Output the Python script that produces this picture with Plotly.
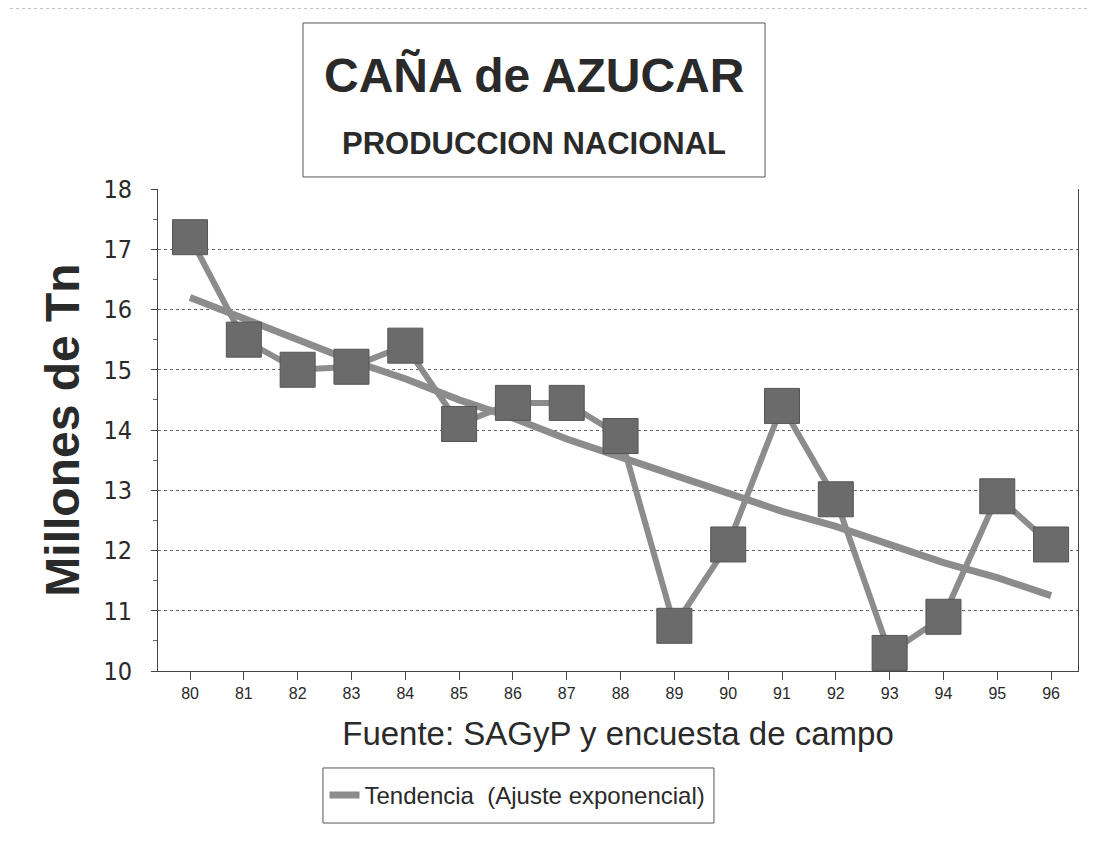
import plotly.graph_objects as go

# Datos
anios = [80, 81, 82, 83, 84, 85, 86, 87, 88, 89, 90, 91, 92, 93, 94, 95, 96]
produccion = [17.2, 15.5, 15.0, 15.05, 15.4, 14.1, 14.45, 14.45, 13.9, 10.75,
              12.1, 14.4, 12.85, 10.3, 10.9, 12.9, 12.1]
tendencia = [16.2, 15.85, 15.5, 15.15, 14.85, 14.5, 14.2, 13.85, 13.55, 13.25,
             12.95, 12.65, 12.4, 12.1, 11.8, 11.55, 11.25]
ticks_y = [10, 11, 12, 13, 14, 15, 16, 17, 18]

FUENTE = "Liberation Sans, Arial, sans-serif"
ANGOSTA = "Liberation Sans Narrow, DejaVu Sans Condensed, Liberation Sans, sans-serif"
GRIS_LINEA = "#8c8c8c"
GRIS_MARCA = "#6b6b6b"
TEXTO = "#2a2a2a"

fig = go.Figure()

# Linea de tendencia (ajuste exponencial)
fig.add_trace(go.Scatter(
    x=anios, y=tendencia,
    mode="lines",
    name="Tendencia  (Ajuste exponencial)",
    line=dict(color=GRIS_LINEA, width=7),
))

# Produccion anual
fig.add_trace(go.Scatter(
    x=anios, y=produccion,
    mode="lines+markers",
    name="Produccion",
    showlegend=False,
    line=dict(color=GRIS_LINEA, width=6),
    marker=dict(symbol="square", size=35, color=GRIS_MARCA,
                line=dict(width=1, color="#555555")),
))

# Titulo en recuadro
fig.add_shape(type="rect", xref="paper", yref="paper",
              x0=0.1576, x1=0.6598, y0=1.0249, y1=1.3444,
              line=dict(color="#555555", width=1), fillcolor="white")
fig.add_annotation(
    x=0.4087, y=1.2365, xref="paper", yref="paper",
    xanchor="center", yanchor="middle",
    text="<b>CAÑA de AZUCAR</b>", showarrow=False,
    font=dict(family=FUENTE, size=48, color=TEXTO),
)
fig.add_annotation(
    x=0.4087, y=1.0954, xref="paper", yref="paper",
    xanchor="center", yanchor="middle",
    text="<b>PRODUCCION NACIONAL</b>", showarrow=False,
    font=dict(family=FUENTE, size=31, color=TEXTO),
)

# Recuadro de la leyenda
fig.add_shape(type="rect", xref="paper", yref="paper",
              x0=0.1793, x1=0.6043, y0=-0.3154, y1=-0.2012,
              line=dict(color="#555555", width=1))

# Marco exterior punteado (solo arriba e izquierda)
fig.add_shape(type="line", xref="paper", yref="paper",
              x0=-0.1674, x1=1.03, y0=1.3755, y1=1.3755,
              line=dict(color="#888888", width=1, dash="dot"))
fig.add_shape(type="line", xref="paper", yref="paper",
              x0=-0.1674, x1=-0.1674, y0=-0.37, y1=1.3755,
              line=dict(color="#888888", width=1, dash="dot"))

fig.update_layout(
    width=1096, height=842,
    margin=dict(l=150, r=26, t=181, b=179, autoexpand=False),
    paper_bgcolor="white",
    plot_bgcolor="white",
    font=dict(family=FUENTE, color=TEXTO),
    xaxis=dict(
        range=[79.405, 96.5],
        tickmode="array", tickvals=anios, ticktext=[str(a) for a in anios],
        tickfont=dict(size=16),
        ticks="outside", ticklen=8, tickcolor="#444444",
        showline=True, linecolor="#444444", linewidth=1,
        showgrid=False, zeroline=False,
        title=dict(text="Fuente: SAGyP y encuesta de campo",
                   font=dict(size=33, color=TEXTO), standoff=20),
    ),
    yaxis=dict(
        range=[10, 18],
        tickmode="array", tickvals=ticks_y,
        tickfont=dict(family=ANGOSTA, size=25),
        ticks="outside", ticklen=6, tickcolor="#444444",
        ticklabelstandoff=14,
        minor=dict(dtick=0.5, ticks="outside", ticklen=4, tickcolor="#666666", showgrid=False),
        showline=True, linecolor="#444444", linewidth=1, mirror=True,
        showgrid=True, gridcolor="#666666", griddash="dot", gridwidth=1,
        zeroline=False,
        title=dict(text="<b>Millones de Tn</b>",
                   font=dict(size=48, color=TEXTO), standoff=8),
    ),
    showlegend=True,
    legend=dict(
        x=0.181, y=-0.2583, xanchor="left", yanchor="middle",
        borderwidth=0,
        font=dict(size=24, color=TEXTO),
        itemwidth=30,
        bgcolor="rgba(0,0,0,0)",
    ),
)

fig.write_html("out.html")
